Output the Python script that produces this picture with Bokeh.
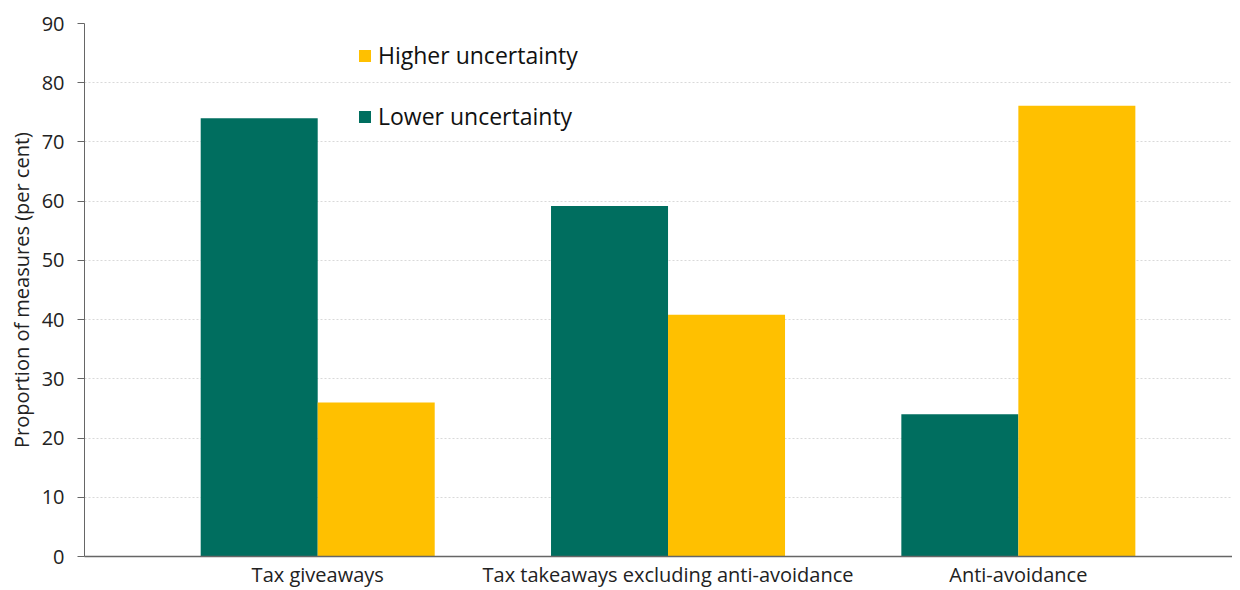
from bokeh.plotting import figure
from bokeh.models import ColumnDataSource, FixedTicker, Legend, LegendItem, Range1d
from bokeh.embed import file_html
from bokeh.resources import INLINE
from bokeh.transform import dodge

categories = ["Tax giveaways", "Tax takeaways excluding anti-avoidance", "Anti-avoidance"]
lower_uncertainty = [74, 59.2, 24]
higher_uncertainty = [26, 40.8, 76.1]
y_ticks = [0, 10, 20, 30, 40, 50, 60, 70, 80, 90]

FONT = "Open Sans"
GREEN = "#006E5F"
YELLOW = "#FFC000"

xpos = [i + 1 for i in range(len(categories))]
src = ColumnDataSource(dict(x=xpos, lower=lower_uncertainty, higher=higher_uncertainty))

p = figure(width=1232, height=590, output_backend="svg", toolbar_location=None,
           x_range=Range1d(0.3343, 3.6113), y_range=Range1d(0, 90),
           min_border_left=84, min_border_right=0, min_border_top=23, min_border_bottom=34)
p.outline_line_color = None
p.background_fill_color = "white"

bw = 0.334
r_low = p.vbar(x=dodge("x", -bw / 2), top="lower", width=bw, source=src,
               fill_color=GREEN, line_color=None)
r_high = p.vbar(x=dodge("x", bw / 2), top="higher", width=bw, source=src,
                fill_color=YELLOW, line_color=None)

p.xgrid.grid_line_color = None
p.ygrid.grid_line_color = "#d9d9d9"
p.ygrid.grid_line_dash = "2 2"
p.ygrid.grid_line_width = 1

p.yaxis.ticker = FixedTicker(ticks=y_ticks)
p.yaxis.minor_tick_line_color = None
p.yaxis.major_tick_in = 0
p.yaxis.major_tick_out = 7
p.yaxis.axis_line_color = "#666666"
p.yaxis.major_tick_line_color = "#666666"
p.yaxis.major_label_text_font = FONT
p.yaxis.major_label_text_font_size = "20px"
p.yaxis.major_label_text_color = "#222222"
p.yaxis.major_label_standoff = 13
p.yaxis.axis_label = "Proportion of measures (per cent)"
p.yaxis.axis_label_text_font = FONT
p.yaxis.axis_label_text_font_size = "20px"
p.yaxis.axis_label_text_font_style = "normal"
p.yaxis.axis_label_text_color = "#222222"
p.yaxis.axis_label_standoff = 4

p.xaxis.ticker = FixedTicker(ticks=xpos)
p.xaxis.major_label_overrides = {x: c for x, c in zip(xpos, categories)}
p.xaxis.major_tick_line_color = None
p.xaxis.major_tick_out = 0
p.xaxis.major_tick_in = 0
p.xaxis.minor_tick_line_color = None
p.xaxis.axis_line_color = "#666666"
p.xaxis.axis_line_width = 1.5
p.xaxis.major_label_text_font = FONT
p.xaxis.major_label_text_font_size = "20px"
p.xaxis.major_label_text_color = "#222222"
p.xaxis.major_label_standoff = 4

legend = Legend(items=[LegendItem(label="Higher uncertainty", renderers=[r_high]),
                       LegendItem(label="Lower uncertainty", renderers=[r_low])],
                location=(273, 424), orientation="vertical",
                background_fill_alpha=0, border_line_color=None,
                label_text_font=FONT, label_text_font_size="23px", label_text_color="#111111",
                glyph_width=15, glyph_height=15, label_standoff=6, spacing=29,
                padding=0, margin=0)
p.add_layout(legend)

open("out.html", "w").write(file_html(p, INLINE))
